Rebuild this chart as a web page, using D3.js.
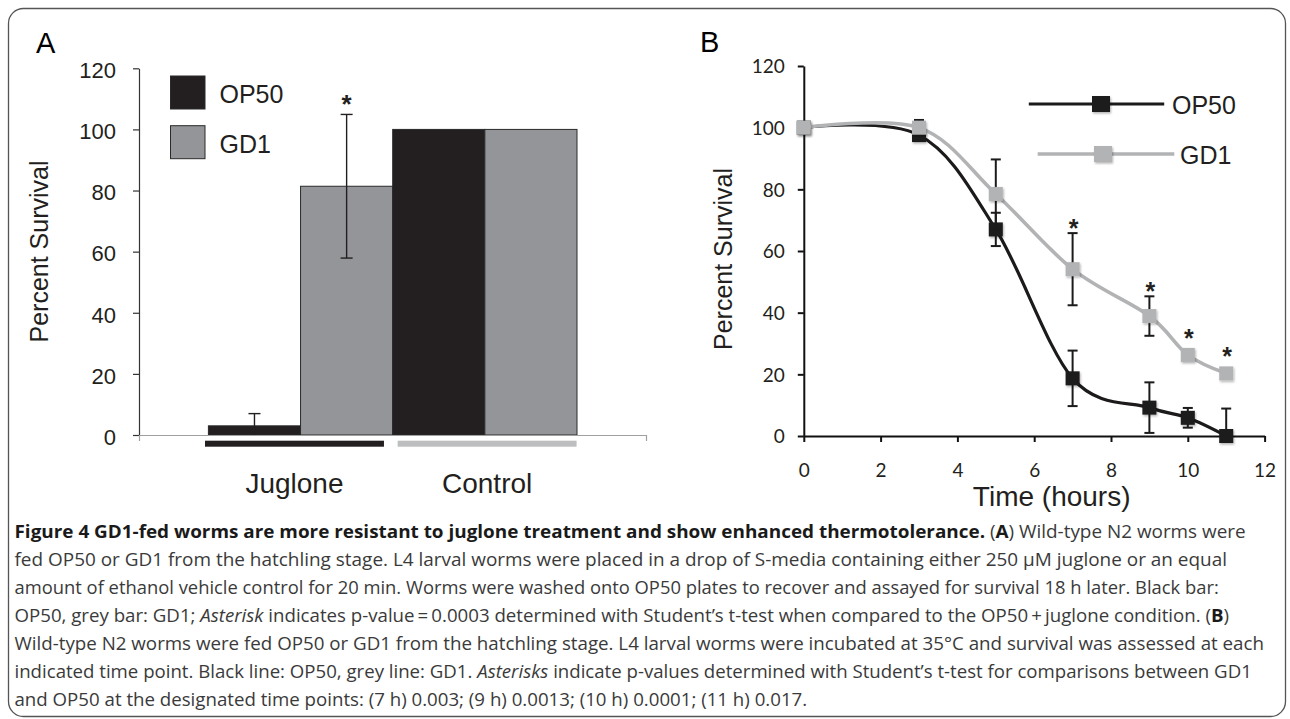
<!DOCTYPE html>
<html>
<head>
<meta charset="utf-8">
<script src="https://cdn.jsdelivr.net/npm/d3@7"></script>
<style>
  body { margin: 0; background: #fff; }
  svg { display: block; }
</style>
</head>
<body>
<svg id="figure" width="1290" height="719" font-family="'Liberation Sans', Arial, sans-serif"></svg>
<script>
// ---- Panel A data: survival after juglone / control ----
const treatments = ['Juglone', 'Control'];
const strains = ['OP50', 'GD1'];
const jugloneSurvival = [3, 81.4];
const jugloneError = [4, 23.5];
const controlSurvival = [100, 100];
const controlError = [0, 0];
const jugloneStar = [false, true];
const pctTicks = [0, 20, 40, 60, 80, 100, 120];

// ---- Panel B data: survival at 35C over time ----
const hours = [0, 3, 5, 7, 9, 10, 11];
const op50Survival = [100, 97.6, 67, 18.7, 9.2, 5.9, 0];
const op50Error = [0, 1.5, 5.4, 9, 8.2, 3.2, 8.9];
const gd1Survival = [100, 100, 78.5, 54.1, 38.9, 26.3, 20.3];
const gd1Error = [0, 2.5, 11.2, 11.7, 6.4, 0.5, 0];
const gd1Star = [false, false, false, true, true, true, true];
const hourTicks = [0, 2, 4, 6, 8, 10, 12];

// ---- Caption (segments: [text, style]) ----
const captionLines = [
    [['Figure 4 GD1-fed worms are more resistant to juglone treatment and show enhanced thermotolerance.', 'b'],
     [' (', ''], ['A', 'b'], [') Wild-type N2 worms were', '']],
    [['fed OP50 or GD1 from the hatchling stage. L4 larval worms were placed in a drop of S-media containing either 250 \u03bcM juglone or an equal', '']],
    [['amount of ethanol vehicle control for 20 min. Worms were washed onto OP50 plates to recover and assayed for survival 18 h later. Black bar:', '']],
    [['OP50, grey bar: GD1; ', ''], ['Asterisk', 'i'],
     [' indicates p-value\u2009=\u20090.0003 determined with Student\u2019s t-test when compared to the OP50\u2009+\u2009juglone condition. (', ''],
     ['B', 'b'], [')', '']],
    [['Wild-type N2 worms were fed OP50 or GD1 from the hatchling stage. L4 larval worms were incubated at 35\u00b0C and survival was assessed at each', '']],
    [['indicated time point. Black line: OP50, grey line: GD1. ', ''], ['Asterisks', 'i'],
     [' indicate p-values determined with Student\u2019s t-test for comparisons between GD1', '']],
    [['and OP50 at the designated time points: (7 h) 0.003; (9 h) 0.0013; (10 h) 0.0001; (11 h) 0.017.', '']]
];

const svg = d3.select('#figure');

// soft shadow used by the line-chart markers
svg.append('defs').append('filter')
    .attr('id', 'marker-shadow')
    .attr('x', '-30%').attr('y', '-30%')
    .attr('width', '170%').attr('height', '170%')
    .append('feDropShadow')
    .attr('dx', 1).attr('dy', 1.5)
    .attr('stdDeviation', 1.2)
    .attr('flood-color', '#000')
    .attr('flood-opacity', 0.3);

// Outer frame
svg.append('rect')
    .attr('x', 8.5).attr('y', 8.5)
    .attr('width', 1277).attr('height', 708)
    .attr('rx', 15).attr('ry', 15)
    .attr('fill', 'none')
    .attr('stroke', '#555')
    .attr('stroke-width', 1.3);

drawPanelA();
drawPanelB();
drawCaption();

function drawPanelA() {
    const black = '#231f20';
    const grey = '#939598';

    let g = svg.append('g').attr('class', 'panel-a');

    g.append('text')
        .attr('x', 36).attr('y', 53)
        .attr('font-size', 29)
        .text('A');

    let y = d3.scaleLinear().domain([0, 120]).range([435, 68.3]);
    let x = d3.scaleBand().domain(treatments).range([208.4, 577]).padding(0);
    let xSub = d3.scaleBand().domain(strains).range([0, x.bandwidth()]);

    // y axis
    let yAxis = g.append('g')
        .attr('transform', 'translate(139,0)')
        .call(d3.axisLeft(y).tickValues(pctTicks).tickSize(6).tickSizeOuter(0).tickPadding(17));
    yAxis.select('.domain').attr('stroke', '#333').attr('stroke-width', 1.2);
    yAxis.selectAll('.tick line').attr('stroke', '#333').attr('stroke-width', 1.2);
    yAxis.selectAll('.tick text')
        .attr('font-family', '"Liberation Sans", Arial, sans-serif')
        .attr('font-size', 22)
        .attr('fill', '#231f20')
        .attr('dy', '0.42em');

    g.append('text')
        .attr('transform', 'translate(48,251.5) rotate(-90)')
        .attr('text-anchor', 'middle')
        .attr('font-size', 25)
        .attr('fill', '#231f20')
        .text('Percent Survival');

    // bars
    let data = [];
    treatments.forEach((t, ti) => {
        strains.forEach((s, si) => {
            let v = ti === 0 ? jugloneSurvival[si] : controlSurvival[si];
            let e = ti === 0 ? jugloneError[si] : controlError[si];
            let star = ti === 0 ? jugloneStar[si] : false;
            data.push({treatment: t, strain: s, value: v, err: e, star: star});
        });
    });

    g.selectAll('.bar')
        .data(data)
        .enter().append('rect')
        .attr('class', 'bar')
        .attr('x', d => x(d.treatment) + xSub(d.strain))
        .attr('y', d => y(d.value))
        .attr('width', xSub.bandwidth())
        .attr('height', d => y(0) - y(d.value))
        .attr('fill', d => d.strain === 'OP50' ? black : grey)
        .attr('stroke', '#2a2a2a')
        .attr('stroke-width', 1);

    // error bars
    let errs = g.selectAll('.err')
        .data(data.filter(d => d.err > 0))
        .enter().append('g')
        .attr('class', 'err')
        .attr('stroke', '#231f20')
        .attr('stroke-width', 1.4);
    errs.append('line')
        .attr('x1', d => x(d.treatment) + xSub(d.strain) + xSub.bandwidth() / 2)
        .attr('x2', d => x(d.treatment) + xSub(d.strain) + xSub.bandwidth() / 2)
        .attr('y1', d => y(Math.max(0, d.value - d.err)))
        .attr('y2', d => y(d.value + d.err));
    errs.append('line')
        .attr('x1', d => x(d.treatment) + xSub(d.strain) + xSub.bandwidth() / 2 - 6)
        .attr('x2', d => x(d.treatment) + xSub(d.strain) + xSub.bandwidth() / 2 + 6)
        .attr('y1', d => y(d.value + d.err))
        .attr('y2', d => y(d.value + d.err));
    errs.filter(d => d.value - d.err > 0).append('line')
        .attr('x1', d => x(d.treatment) + xSub(d.strain) + xSub.bandwidth() / 2 - 6)
        .attr('x2', d => x(d.treatment) + xSub(d.strain) + xSub.bandwidth() / 2 + 6)
        .attr('y1', d => y(d.value - d.err))
        .attr('y2', d => y(d.value - d.err));

    g.selectAll('.star')
        .data(data.filter(d => d.star))
        .enter().append('text')
        .attr('class', 'star')
        .attr('x', d => x(d.treatment) + xSub(d.strain) + xSub.bandwidth() / 2)
        .attr('y', d => y(d.value + d.err) - 1)
        .attr('text-anchor', 'middle')
        .attr('font-size', 26)
        .attr('font-weight', 'bold')
        .attr('fill', '#231f20')
        .text('*');

    // x axis (plain grey baseline with end ticks)
    let xAxis = g.append('g')
        .attr('transform', 'translate(0,435)')
        .call(d3.axisBottom(d3.scaleLinear().range([139, 646])).tickValues([0, 1])
            .tickFormat('').tickSize(6).tickSizeOuter(0));
    xAxis.selectAll('.domain, .tick line').attr('stroke', '#a0a0a0').attr('stroke-width', 1.2);

    // treatment bars under the axis
    let under = d3.scaleBand().domain(treatments).range([205, 576.6]).paddingInner(0.071);
    g.selectAll('.underbar')
        .data(treatments)
        .enter().append('rect')
        .attr('class', 'underbar')
        .attr('x', d => under(d))
        .attr('y', 440.7)
        .attr('width', under.bandwidth())
        .attr('height', 6)
        .attr('fill', (d, i) => i === 0 ? black : '#bcbec0');

    g.selectAll('.cat-label')
        .data(treatments)
        .enter().append('text')
        .attr('class', 'cat-label')
        .attr('x', d => under(d) + under.bandwidth() / 2)
        .attr('y', 493)
        .attr('text-anchor', 'middle')
        .attr('font-size', 28)
        .attr('fill', '#231f20')
        .text(d => d);

    // legend
    let legend = g.selectAll('.legend')
        .data(strains)
        .enter().append('g')
        .attr('class', 'legend')
        .attr('transform', (d, i) => `translate(170.5, ${76 + i * 49.7})`);
    legend.append('rect')
        .attr('width', 34.5).attr('height', 33)
        .attr('fill', (d, i) => i === 0 ? black : grey)
        .attr('stroke', '#2a2a2a').attr('stroke-width', 1);
    legend.append('text')
        .attr('x', 49).attr('y', 27)
        .attr('font-size', 25)
        .attr('fill', '#231f20')
        .text(d => d);
}

function drawPanelB() {
    const black = '#1c1a1b';
    const grey = '#b2b3b5';

    let g = svg.append('g').attr('class', 'panel-b');

    g.append('text')
        .attr('x', 700).attr('y', 52)
        .attr('font-size', 29)
        .text('B');

    let x = d3.scaleLinear().domain([0, 12]).range([803.8, 1264.6]);
    let y = d3.scaleLinear().domain([0, 120]).range([436, 66]);

    let yAxis = g.append('g')
        .attr('transform', `translate(${x(0)},0)`)
        .call(d3.axisLeft(y).tickValues(pctTicks).tickSize(6).tickSizeOuter(0).tickPadding(13));
    let xAxis = g.append('g')
        .attr('transform', `translate(0,${y(0)})`)
        .call(d3.axisBottom(x).tickValues(hourTicks).tickSize(6).tickSizeOuter(0).tickPadding(22));
    [yAxis, xAxis].forEach(a => {
        a.selectAll('.domain, .tick line').attr('stroke', '#111').attr('stroke-width', 2);
        a.selectAll('.tick text')
            .attr('font-family', 'Lato, "Open Sans", sans-serif')
            .attr('font-size', 19)
            .attr('fill', '#231f20');
    });
    yAxis.selectAll('.tick text').attr('dy', '0.36em');

    g.append('text')
        .attr('transform', 'translate(732,259) rotate(-90)')
        .attr('text-anchor', 'middle')
        .attr('font-size', 25)
        .attr('fill', '#231f20')
        .text('Percent Survival');

    g.append('text')
        .attr('x', 1051.7).attr('y', 506)
        .attr('text-anchor', 'middle')
        .attr('font-size', 28)
        .attr('fill', '#231f20')
        .text('Time (hours)');

    let series = [
        {name: 'OP50', color: black, width: 3.2,
         points: hours.map((t, i) => ({t: t, v: op50Survival[i], e: op50Error[i], star: false}))},
        {name: 'GD1', color: grey, width: 3.6,
         points: hours.map((t, i) => ({t: t, v: gd1Survival[i], e: gd1Error[i], star: gd1Star[i]}))}
    ];

    let line = d3.line()
        .x(d => x(d.t))
        .y(d => y(d.v))
        .curve(d3.curveCardinal.tension(0));

    const markerSize = 14;

    series.forEach(s => {
        let sg = g.append('g').attr('class', 'series-' + s.name);

        sg.append('path')
            .datum(s.points)
            .attr('d', line)
            .attr('fill', 'none')
            .attr('stroke', s.color)
            .attr('stroke-width', s.width)
            .attr('stroke-linejoin', 'round');

        let errs = sg.selectAll('.err')
            .data(s.points.filter(d => d.e > 0.6))
            .enter().append('g')
            .attr('class', 'err')
            .attr('stroke', '#1c1a1b')
            .attr('stroke-width', 2);
        errs.append('line')
            .attr('x1', d => x(d.t)).attr('x2', d => x(d.t))
            .attr('y1', d => y(Math.max(0, d.v - d.e)))
            .attr('y2', d => y(d.v + d.e));
        errs.append('line')
            .attr('x1', d => x(d.t) - 5).attr('x2', d => x(d.t) + 5)
            .attr('y1', d => y(d.v + d.e)).attr('y2', d => y(d.v + d.e));
        errs.filter(d => d.v - d.e > 0).append('line')
            .attr('x1', d => x(d.t) - 5).attr('x2', d => x(d.t) + 5)
            .attr('y1', d => y(d.v - d.e)).attr('y2', d => y(d.v - d.e));

        sg.selectAll('.marker')
            .data(s.points)
            .enter().append('rect')
            .attr('class', 'marker')
            .attr('x', d => x(d.t) - markerSize / 2)
            .attr('y', d => y(d.v) - markerSize / 2)
            .attr('width', markerSize)
            .attr('height', markerSize)
            .attr('fill', s.color)
            .attr('filter', 'url(#marker-shadow)');

        sg.selectAll('.star')
            .data(s.points.filter(d => d.star))
            .enter().append('text')
            .attr('class', 'star')
            .attr('x', d => x(d.t) + 1)
            .attr('y', d => Math.min(y(d.v + d.e), y(d.v) - 12) - 10 + 14)
            .attr('text-anchor', 'middle')
            .attr('font-size', 25)
            .attr('font-weight', 'bold')
            .attr('fill', '#231f20')
            .text('*');
    });

    // legend
    const legendRows = [
        {x1: 1028.8, x2: 1164.2, mx: 1101, y: 104, tx: 1172},
        {x1: 1037.7, x2: 1174.3, mx: 1103, y: 154, tx: 1180}
    ];
    series.forEach((s, i) => {
        let r = legendRows[i];
        let lg = g.append('g').attr('class', 'legend');
        lg.append('line')
            .attr('x1', r.x1).attr('x2', r.x2)
            .attr('y1', r.y).attr('y2', r.y)
            .attr('stroke', s.color).attr('stroke-width', s.width);
        lg.append('rect')
            .attr('x', r.mx - 9).attr('y', r.y - 8)
            .attr('width', 18).attr('height', 16)
            .attr('fill', s.color)
            .attr('filter', 'url(#marker-shadow)');
        lg.append('text')
            .attr('x', r.tx).attr('y', r.y + 10)
            .attr('font-size', 25)
            .attr('fill', '#231f20')
            .text(s.name);
    });
}

function drawCaption() {
    const lineEnds = [1245.6, 1227, 1218.8, 1229, 1264, 1251.8];
    const left = 14.5;
    let g = svg.append('g').attr('class', 'caption');

    let texts = g.selectAll('.cap-line')
        .data(captionLines)
        .enter().append('text')
        .attr('class', 'cap-line')
        .attr('x', left)
        .attr('y', (d, i) => 537.7 + i * 28)
        .attr('font-family', '"Open Sans", sans-serif')
        .attr('font-size', 18)
        .attr('fill', '#3a3a3a');

    texts.selectAll('tspan')
        .data(d => d)
        .enter().append('tspan')
        .attr('font-weight', d => d[1] === 'b' ? 'bold' : null)
        .attr('font-style', d => d[1] === 'i' ? 'italic' : null)
        .attr('fill', d => d[1] === 'b' ? '#1a1a1a' : null)
        .text(d => d[0]);

    // fit each line to the measured line width
    let ratios = [];
    texts.each(function (d, i) {
        let natural = this.getComputedTextLength();
        if (i < lineEnds.length) {
            let target = lineEnds[i] - left;
            ratios.push(target / natural);
            d3.select(this)
                .attr('textLength', target)
                .attr('lengthAdjust', 'spacingAndGlyphs');
        } else {
            let r = d3.mean(ratios.slice(1));
            d3.select(this)
                .attr('textLength', natural * r)
                .attr('lengthAdjust', 'spacingAndGlyphs');
        }
    });
}
</script>
</body>
</html>
